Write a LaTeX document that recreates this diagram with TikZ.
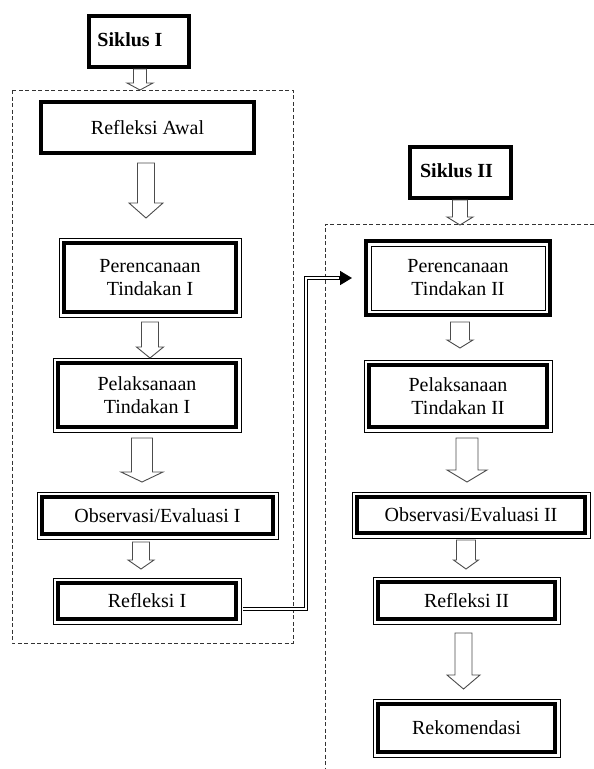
\documentclass[tikz,border=0pt]{standalone}
\usepackage{fontspec}
\setmainfont{Liberation Serif}
\usetikzlibrary{calc,arrows.meta}
% hollow block arrow: centre x, top y, tip y, shaft half width, head half width, head length
\newcommand\hollowarrow[6]{%
  \draw[blockarrow] (#1-#4,#2) -- (#1+#4,#2) -- (#1+#4,#3-#6) -- (#1+#5,#3-#6)
    -- (#1,#3) -- (#1-#5,#3-#6) -- (#1-#4,#3-#6) -- cycle;}
\begin{document}
\begin{tikzpicture}[x=1pt,y=-1pt,
  box/.style={draw, line width=3.5pt, outer sep=0pt, inner sep=0pt, align=center,
    font=\fontsize{20}{23}\selectfont},
  outerframe/.style={box, append after command={\pgfextra{\draw[line width=1pt]
    ($(\tikzlastnode.south west)+(-5pt,-5pt)$) rectangle ($(\tikzlastnode.north east)+(5pt,5pt)$);}}},
  innerframe/.style={box, append after command={\pgfextra{\draw[line width=1pt]
    ($(\tikzlastnode.south west)+(5pt,5pt)$) rectangle ($(\tikzlastnode.north east)+(-5pt,-5pt)$);}}},
  titlebox/.style={box, font=\bfseries\fontsize{20}{23}\selectfont},
  blockarrow/.style={draw=black!70, line width=0.9pt, fill=white, line join=miter},
  frame/.style={draw=black!80, line width=0.8pt, dash pattern=on 4pt off 2.5pt},
  link/.style={double, double distance=2pt, line width=0.7pt}
]
\useasboundingbox (0,0) rectangle (594,769);

% dashed frames
\draw[frame] (12,90) rectangle (293,643);
\draw[frame] (594,224) -- (325,224) -- (325,769);

% left column
\node[titlebox, minimum width=100pt, minimum height=51pt] (s1) at (139,41.5) {\raisebox{4pt}{\hspace*{-18pt}Siklus I}};
\node[box, minimum width=213pt, minimum height=51pt] (ra) at (147.5,127.5) {Refleksi Awal};
\node[outerframe, minimum width=172pt, minimum height=69pt] (p1) at (150,277.5) {Perencanaan\\Tindakan I};
\node[outerframe, minimum width=178pt, minimum height=64pt] (l1) at (147,395) {Pelaksanaan\\Tindakan I};
\node[outerframe, minimum width=231pt, minimum height=37pt] (o1) at (157.5,515.5) {Observasi/Evaluasi I};
\node[outerframe, minimum width=178pt, minimum height=36pt] (r1) at (147,601) {Refleksi I};

% right column
\node[titlebox, minimum width=101pt, minimum height=51pt] (s2) at (460.5,172.5) {\raisebox{3pt}{\hspace*{-8pt}Siklus II}};
\node[innerframe, minimum width=184pt, minimum height=74pt] (p2) at (458,278) {Perencanaan\\Tindakan II};
\node[outerframe, minimum width=178pt, minimum height=62pt] (l2) at (458,396) {Pelaksanaan\\Tindakan II};
\node[outerframe, minimum width=228pt, minimum height=36pt] (o2) at (471,515) {Observasi/Evaluasi II};
\node[outerframe, minimum width=177pt, minimum height=37pt] (r2) at (466.5,600.5) {Refleksi II};
\node[outerframe, minimum width=177pt, minimum height=48pt] (rk) at (466.5,728) {Rekomendasi};

% hollow arrows, left
\hollowarrow{140}{69}{90}{6.5}{13}{7}
\hollowarrow{146}{163}{218}{8.5}{17}{15}
\hollowarrow{150}{322}{358}{8.5}{13.5}{11}
\hollowarrow{142}{438}{482}{10.5}{21}{10}
\hollowarrow{141}{542}{569}{8.5}{13}{9}
% hollow arrows, right
\hollowarrow{460}{200}{225}{7.5}{13}{8}
\hollowarrow{460}{322}{348}{9.5}{13}{8}
\hollowarrow{467}{438}{482}{11}{20}{12}
\hollowarrow{466}{540}{569}{9.5}{12.5}{9}
\hollowarrow{463.5}{633}{689}{8.5}{16.5}{14}

% link from Refleksi I to Perencanaan Tindakan II
\coordinate (k1) at (306,609);
\coordinate (k2) at (306,278);
\coordinate (k3) at ([xshift=-26pt]p2.west);
\draw[link] ([xshift=7pt,yshift=-8pt]r1.east) -- (k1) -- (k2) -- (k3);
\draw[line width=1.6pt, -{Triangle[length=12pt,width=14pt]}] ([xshift=-27pt]p2.west) -- ([xshift=-14pt]p2.west);
\end{tikzpicture}
\end{document}
